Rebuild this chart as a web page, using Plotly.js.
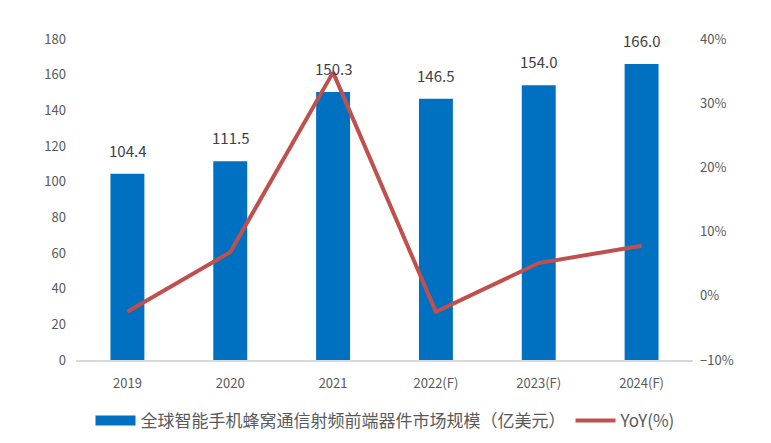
<!DOCTYPE html>
<html>
<head>
<meta charset="utf-8">
<script src="https://cdn.plot.ly/plotly-3.0.1.min.js"></script>
<style>body{margin:0;background:#fff;} #chart{width:771px;height:443px;}</style>
</head>
<body>
<div id="chart"></div>
<script>
// 数据
const years = ['2019', '2020', '2021', '2022(F)', '2023(F)', '2024(F)'];
const marketSize = [104.4, 111.5, 150.3, 146.5, 154.0, 166.0];
const yoy = [-0.025, 0.068, 0.348, -0.025, 0.051, 0.078];
const leftTicks = [0, 20, 40, 60, 80, 100, 120, 140, 160, 180];
const rightTicks = [-0.1, 0, 0.1, 0.2, 0.3, 0.4];
const barName = '全球智能手机蜂窝通信射频前端器件市场规模（亿美元）';

const fontFam = '"Noto Sans CJK SC", "DejaVu Sans", sans-serif';

let bars = {
    x: years, y: marketSize, type: 'bar', name: barName, showlegend: false,
    marker: {color: '#0070C0'}, width: 0.33
};
// 图例用的宽色块
let barKey = {
    x: [years[0]], y: [null], type: 'scatter', mode: 'lines', name: barName,
    line: {color: '#0070C0', width: 13}
};
let line = {
    x: years, y: yoy, type: 'scatter', mode: 'lines', yaxis: 'y2', name: 'YoY(%)',
    line: {color: '#C0504D', width: 4}
};

// 数据标签
let labels = years.map((c, i) => ({
    x: i, y: marketSize[i], text: marketSize[i].toFixed(1), showarrow: false,
    yanchor: 'bottom', yshift: 11, font: {size: 15, color: '#404040'}
}));

let layout = {
    width: 771, height: 443,
    paper_bgcolor: '#fff', plot_bgcolor: '#fff',
    margin: {l: 76, r: 78, t: 39, b: 83},
    font: {family: fontFam, color: '#595959', size: 13},
    xaxis: {type: 'category', categoryorder: 'array', categoryarray: years, range: [-0.5, years.length - 0.5],
            showgrid: false, showline: true, linecolor: '#D9D9D9', linewidth: 2, ticks: '',
            ticklabelstandoff: 10, tickfont: {size: 13, color: '#595959'}},
    yaxis: {range: [0, 180], tickvals: leftTicks, showgrid: false, zeroline: false, showline: false,
            ticks: '', ticklabelstandoff: 9, tickfont: {size: 13, color: '#595959'}},
    yaxis2: {range: [-0.1, 0.4], tickvals: rightTicks, tickformat: '.0%', overlaying: 'y', side: 'right',
             showgrid: false, zeroline: false, showline: false, ticks: '', ticklabelstandoff: 6,
             tickfont: {size: 13, color: '#595959'}},
    annotations: labels,
    showlegend: true,
    legend: {orientation: 'h', x: 0.5, xanchor: 'center', xref: 'container', y: 0.05, yanchor: 'middle', yref: 'container',
             font: {size: 17, color: '#595959'}, traceorder: 'normal', itemwidth: 40}
};

Plotly.newPlot('chart', [bars, barKey, line], layout, {displayModeBar: false});
</script>
</body>
</html>
